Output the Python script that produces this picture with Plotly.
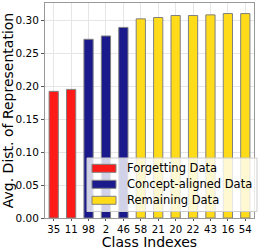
import plotly.graph_objects as go

forget_classes = ["35", "11"]
forget_values = [0.192, 0.195]
concept_classes = ["98", "2", "46"]
concept_values = [0.271, 0.276, 0.289]
remain_classes = ["58", "21", "20", "22", "43", "16", "54"]
remain_values = [0.302, 0.304, 0.307, 0.307, 0.308, 0.310, 0.310]
y_ticks = [0.00, 0.05, 0.10, 0.15, 0.20, 0.25, 0.30]
legend_labels = ["Forgetting Data", "Concept-aligned Data", "Remaining Data"]

FONT = "DejaVu Sans"
COLORS = ["#ff1a1a", "#1a1a8d", "#ffdb1a"]
edge = dict(color="#808080", width=1)

W, H = 265, 250
ML, MR, MT, MB = 45, 11, 3, 32
PW, PH = W - ML - MR, H - MT - MB


def px(xp):
    return (xp - ML) / PW


def py(yp):
    return (H - MB - yp) / PH


fig = go.Figure()
for cls, vals, name, col in zip(
    [forget_classes, concept_classes, remain_classes],
    [forget_values, concept_values, remain_values],
    legend_labels, COLORS,
):
    fig.add_trace(go.Bar(x=cls, y=vals, name=name, showlegend=False,
                         marker=dict(color=col, line=edge)))

# custom matplotlib-like legend
shapes = [dict(type="rect", xref="paper", yref="paper", layer="above",
               x0=px(87), x1=px(257), y0=py(211.5), y1=py(158),
               fillcolor="rgba(255,255,255,0.8)", line=dict(color="#cccccc", width=1))]
annotations = []
for i, (lab, col) in enumerate(zip(legend_labels, COLORS)):
    yc = 168.3 + 16 * i
    shapes.append(dict(type="rect", xref="paper", yref="paper", layer="above",
                       x0=px(92), x1=px(116), y0=py(yc + 4), y1=py(yc - 4),
                       fillcolor=col, line=dict(color="#808080", width=1)))
    annotations.append(dict(xref="paper", yref="paper", x=px(124.5), y=py(yc),
                            xanchor="left", yanchor="middle", showarrow=False,
                            text=lab, font=dict(size=11.5, family=FONT, color="black")))

fig.update_layout(
    width=W, height=H,
    margin=dict(l=ML, r=MR, t=MT, b=MB),
    plot_bgcolor="white", paper_bgcolor="white",
    barmode="overlay",
    bargap=0.47,
    font=dict(family=FONT, color="black", size=12),
    showlegend=False,
    shapes=shapes, annotations=annotations,
)
fig.update_xaxes(
    automargin=False,
    categoryorder="array",
    categoryarray=forget_classes + concept_classes + remain_classes,
    title=dict(text="Class Indexes", font=dict(size=14), standoff=0),
    showgrid=True, gridcolor="#e6e6e6", gridwidth=1,
    showline=True, linecolor="#999999", linewidth=1, mirror=True,
    ticks="outside", ticklen=2, tickcolor="#555555",
    tickfont=dict(size=10.2), tickangle=0,
)
fig.update_yaxes(
    automargin=False,
    range=[0, 0.326],
    tickvals=y_ticks, tickformat=".2f",
    title=dict(text="Avg. Dist. of Representation", font=dict(size=14), standoff=0),
    showgrid=True, gridcolor="#e6e6e6", gridwidth=1,
    showline=True, linecolor="#999999", linewidth=1, mirror=True,
    ticks="outside", ticklen=3, tickcolor="#555555",
    tickfont=dict(size=10.5), zeroline=False,
)
fig.write_html("out.html", config={"displayModeBar": False},
               post_script="document.body.style.margin='0';")
